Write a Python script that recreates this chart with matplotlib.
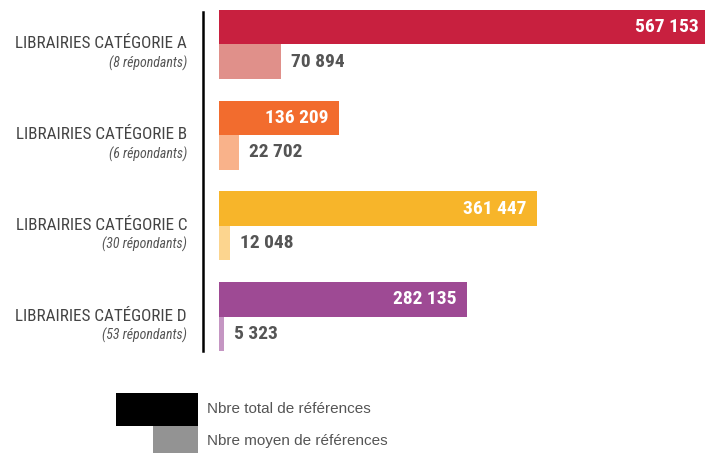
import matplotlib.pyplot as plt
from matplotlib.patches import Rectangle

categories = ["LIBRAIRIES CATÉGORIE A", "LIBRAIRIES CATÉGORIE B",
              "LIBRAIRIES CATÉGORIE C", "LIBRAIRIES CATÉGORIE D"]
respondents = ["(8 répondants)", "(6 répondants)", "(30 répondants)", "(53 répondants)"]
totals = [567153, 136209, 361447, 282135]
averages = [70894, 22702, 12048, 5323]

total_colors = ["#C8203F", "#F26C2E", "#F7B52A", "#9E4A94"]
avg_colors = ["#E0908A", "#F9B28A", "#FCD58F", "#C596C3"]

NARROW = ["Roboto Condensed", "Liberation Sans", "DejaVu Sans"]
REG = ["Liberation Sans", "DejaVu Sans"]


def fmt(v):
    return f"{v:,}".replace(",", " ")


W, H = 705, 453
fig = plt.figure(figsize=(W / 100, H / 100), dpi=100)
ax = fig.add_axes([219 / W, 1 - 351 / H, 486 / W, 341 / H])

xmax = 553000
bh = 0.38
ys = range(len(categories))

for i in ys:
    ax.barh(i - bh / 2, totals[i], height=bh, color=total_colors[i])
    ax.barh(i + bh / 2, averages[i], height=bh, color=avg_colors[i])

    # total value, white inside the bar (bar A runs past the frame)
    pad = -10 if totals[i] < xmax else -6
    ax.annotate(fmt(totals[i]), xy=(min(totals[i], xmax), i - bh / 2),
                xytext=(pad, 0), textcoords="offset pixels",
                ha="right", va="center", color="white", fontsize=14,
                fontweight="bold", family=NARROW)
    # average value, grey to the right of the bar
    ax.annotate(fmt(averages[i]), xy=(averages[i], i + bh / 2),
                xytext=(10, 0), textcoords="offset pixels",
                ha="left", va="center", color="#555555", fontsize=14,
                fontweight="bold", family=NARROW)

    # category labels
    ax.annotate(categories[i], xy=(0, i), xycoords=("axes fraction", "data"),
                xytext=(-32, -4), textcoords="offset pixels",
                ha="right", va="baseline", color="#444444", fontsize=12.3,
                family=NARROW)
    ax.annotate(respondents[i], xy=(0, i), xycoords=("axes fraction", "data"),
                xytext=(-32, -19), textcoords="offset pixels",
                ha="right", va="center", color="#555555", fontsize=10,
                style="italic", family=NARROW)

ax.set_xlim(0, xmax)
ax.set_ylim(3 + bh, -bh)
ax.set_xticks([])
ax.set_yticks([])
for s in ["top", "right", "bottom"]:
    ax.spines[s].set_visible(False)
ax.spines["left"].set_position(("outward", 11.5))
ax.spines["left"].set_linewidth(1.8)
ax.spines["left"].set_bounds(3 + bh, -bh + 0.02)

# legend
fig.add_artist(Rectangle((116 / W, 1 - 426 / H), 82 / W, 33 / H,
                         transform=fig.transFigure, color="black", lw=0))
fig.add_artist(Rectangle((153 / W, 0), 45 / W, 27 / H,
                         transform=fig.transFigure, color="#939393", lw=0))
fig.text(207 / W, 1 - 409 / H, "Nbre total de références", ha="left",
         va="center", fontsize=11, color="#555555", family=REG)
fig.text(207 / W, 1 - 441 / H, "Nbre moyen de références", ha="left",
         va="center", fontsize=11, color="#555555", family=REG)

fig.savefig("out.png", dpi=100)
